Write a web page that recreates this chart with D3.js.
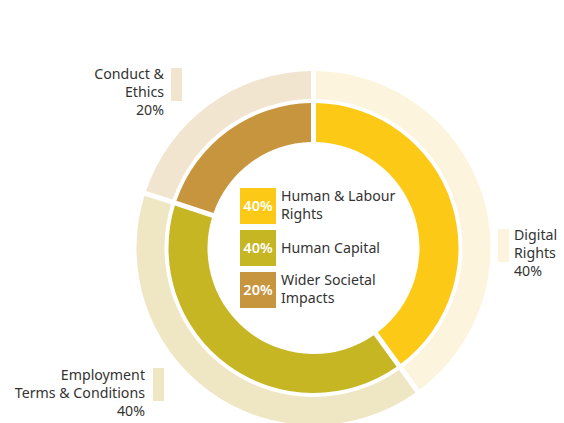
<!DOCTYPE html>
<html>
<head>
<meta charset="utf-8">
<script src="https://d3js.org/d3.v7.min.js"></script>
<style>
  body { margin: 0; background: #fff; }
  svg { display: block; font-family: "Noto Sans", sans-serif; }
  .lbl { font-size: 14.2px; fill: #333; }
  .pct { font-size: 14.5px; fill: #fff; font-weight: 600; }
</style>
</head>
<body>
<script>
// inner ring
var innerCategories = ["Human & Labour Rights", "Human Capital", "Wider Societal Impacts"];
var innerValues = [40, 40, 20];
var innerLines = [["Human & Labour", "Rights"], ["Human Capital"], ["Wider Societal", "Impacts"]];
var innerColors = ["#FCCA16", "#C6B624", "#C8953F"];

// outer ring
var outerCategories = ["Digital Rights", "Employment Terms & Conditions", "Conduct & Ethics"];
var outerValues = [40, 40, 20];
var outerLines = [["Digital", "Rights"], ["Employment", "Terms & Conditions"], ["Conduct &", "Ethics"]];
var outerColors = ["#FDF4DD", "#EFE6C4", "#F1E5D0"];

var width = 564, height = 423;
var cx = 313.5, cy = 248;

var svg = d3.select("body").append("svg")
    .attr("width", width)
    .attr("height", height);

var g = svg.append("g").attr("transform", "translate(" + cx + "," + cy + ")");

var pie = d3.pie().sort(null);

var innerArc = d3.arc().innerRadius(106).outerRadius(145).padAngle(0.05).padRadius(100);
var outerArc = d3.arc().innerRadius(149).outerRadius(177).padAngle(0.05).padRadius(100);

g.selectAll("path.outer")
  .data(pie(outerValues))
  .enter()
  .append("path")
  .attr("class", "outer")
  .attr("d", outerArc)
  .attr("fill", function(d, i) { return outerColors[i]; });

g.selectAll("path.inner")
  .data(pie(innerValues))
  .enter()
  .append("path")
  .attr("class", "inner")
  .attr("d", innerArc)
  .attr("fill", function(d, i) { return innerColors[i]; });

// centre legend
var legend = svg.append("g").attr("transform", "translate(240,188)");
var item = legend.selectAll("g")
  .data(innerCategories)
  .enter()
  .append("g")
  .attr("transform", function(d, i) { return "translate(0," + (i * 42) + ")"; });

item.append("rect")
  .attr("width", 36)
  .attr("height", 36)
  .attr("fill", function(d, i) { return innerColors[i]; });

item.append("text")
  .attr("class", "pct")
  .attr("x", 18)
  .attr("y", 23)
  .attr("text-anchor", "middle")
  .text(function(d, i) { return innerValues[i] + "%"; });

item.append("text")
  .attr("class", "lbl")
  .attr("x", 41)
  .attr("y", function(d, i) { return innerLines[i].length > 1 ? 13 : 23; })
  .selectAll("tspan")
  .data(function(d, i) { return innerLines[i]; })
  .enter()
  .append("tspan")
  .attr("x", 41)
  .attr("dy", function(d, j) { return j ? 17.5 : 0; })
  .text(function(d) { return d; });

// outer labels: swatch + text, placed beside each outer segment
var outerPos = [
  { sx: 498, sy: 229, tx: 514, ty: 240, anchor: "start" },
  { sx: 153, sy: 368, tx: 145, ty: 380, anchor: "end" },
  { sx: 171, sy: 68, tx: 164, ty: 79, anchor: "end" }
];

outerCategories.forEach(function(c, i) {
  var p = outerPos[i];
  svg.append("rect")
    .attr("x", p.sx).attr("y", p.sy)
    .attr("width", 11).attr("height", 33)
    .attr("fill", outerColors[i]);
  var t = svg.append("text")
    .attr("class", "lbl")
    .attr("text-anchor", p.anchor)
    .attr("y", p.ty);
  outerLines[i].concat([outerValues[i] + "%"]).forEach(function(line, j) {
    t.append("tspan").attr("x", p.tx).attr("y", p.ty + j * 18).text(line);
  });
});
</script>
</body>
</html>
